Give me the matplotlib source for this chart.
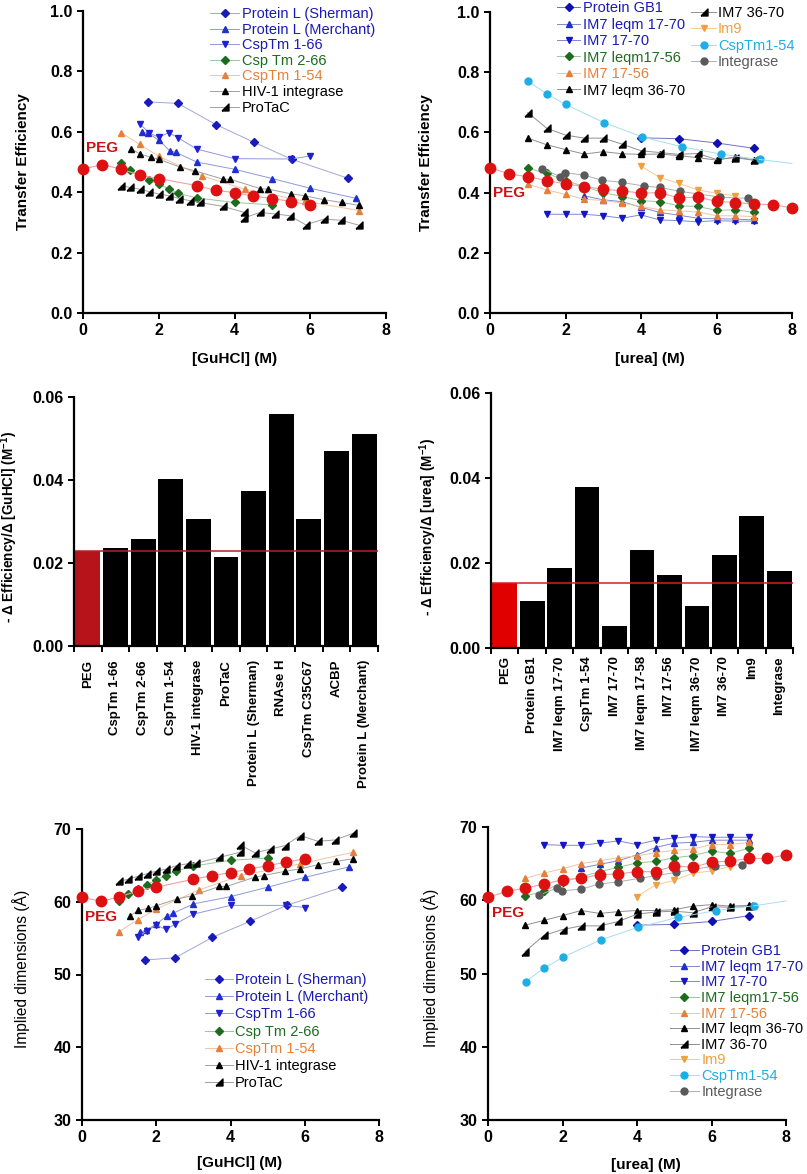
import matplotlib
matplotlib.use("Agg")
import matplotlib.pyplot as plt

plt.rcParams['font.family'] = ['Liberation Sans', 'DejaVu Sans']
plt.rcParams['font.weight'] = 'bold'
plt.rcParams['axes.labelweight'] = 'bold'
plt.rcParams['mathtext.default'] = 'regular'

W, H = 807, 1174

# ---------------- GuHCl series: x, transfer efficiency, implied dimension ----------------
peg_gu_x = [0, 0.5, 1.0, 1.5, 2.0, 3.0, 3.5, 4.0, 4.5, 5.0, 5.5, 6.0]
peg_gu_E = [0.477, 0.491, 0.477, 0.456, 0.445, 0.422, 0.406, 0.399, 0.387, 0.379, 0.369, 0.358]
peg_gu_R = [60.64, 60.05, 60.64, 61.5, 62.0, 63.1, 63.6, 64.0, 64.5, 64.95, 65.45, 65.9]

sherman_x = [1.71, 2.51, 3.51, 4.52, 5.51, 7.0]
sherman_E = [0.699, 0.694, 0.624, 0.565, 0.509, 0.446]
sherman_R = [52.0, 52.3, 55.1, 57.3, 59.5, 62.0]

merchant_x = [1.56, 1.72, 2.0, 2.29, 2.45, 3.0, 4.0, 5.0, 6.0, 7.2]
merchant_E = [0.598, 0.595, 0.573, 0.537, 0.532, 0.500, 0.476, 0.445, 0.413, 0.380]
merchant_R = [55.8, 56.1, 56.9, 58.1, 58.4, 59.7, 60.7, 62.0, 63.35, 64.8]

csp166_x = [1.51, 1.74, 2.0, 2.26, 2.5, 3.0, 4.0, 5.5, 6.0]
csp166_E = [0.626, 0.597, 0.582, 0.597, 0.581, 0.543, 0.511, 0.510, 0.520]
csp166_R = [55.1, 56.0, 56.8, 56.2, 56.9, 58.3, 59.5, 59.5, 59.2]

csp266_x = [1.0, 1.25, 1.5, 1.75, 2.0, 2.26, 2.52, 3.0, 4.0, 5.0]
csp266_E = [0.496, 0.472, 0.455, 0.439, 0.426, 0.412, 0.396, 0.381, 0.366, 0.358]
csp266_R = [60.1, 61.0, 61.7, 62.3, 63.0, 63.6, 64.2, 64.9, 65.7, 66.0]

csp154_x = [1.0, 1.5, 2.0, 3.14, 4.27, 5.87, 7.3]
csp154_E = [0.597, 0.558, 0.519, 0.454, 0.410, 0.370, 0.339]
csp154_R = [55.9, 57.5, 59.0, 61.6, 63.6, 65.2, 66.8]

hiv_x = [1.28, 1.51, 1.79, 2.0, 2.57, 2.95, 3.7, 3.89, 4.67, 4.89, 5.48, 5.86, 6.36, 6.84, 7.3]
hiv_E = [0.543, 0.526, 0.516, 0.509, 0.483, 0.471, 0.443, 0.443, 0.412, 0.410, 0.395, 0.388,
         0.375, 0.366, 0.356]
hiv_R = [58.0, 58.8, 59.1, 59.45, 60.4, 60.8, 62.1, 62.1, 63.4, 63.6, 64.2, 64.5, 65.1, 65.55, 65.9]

protac_x = [1.0, 1.25, 1.5, 1.74, 2.0, 2.27, 2.54, 2.82, 3.08, 3.7, 4.26, 4.26, 4.67, 5.07, 5.46,
            5.88, 6.36, 6.82, 7.3]
protac_E = [0.421, 0.416, 0.410, 0.402, 0.394, 0.388, 0.379, 0.372, 0.366, 0.353, 0.333, 0.315,
            0.333, 0.328, 0.322, 0.292, 0.311, 0.307, 0.290]
protac_R = [62.8, 63.1, 63.5, 63.85, 64.2, 64.5, 64.95, 65.2, 65.3, 66.1, 66.8, 67.8, 66.7, 67.25,
            67.7, 69.1, 68.3, 68.5, 69.4]

# ---------------- urea series ----------------
peg_ur_x = [0, 0.5, 1, 1.5, 2, 2.5, 3, 3.5, 4, 4.5, 5, 5.5, 6, 6.5, 7, 7.5, 8]
peg_ur_E = [0.483, 0.462, 0.453, 0.440, 0.429, 0.420, 0.411, 0.406, 0.398, 0.400, 0.382, 0.385,
            0.371, 0.367, 0.362, 0.360, 0.349]
peg_ur_R = [60.4, 61.2, 61.65, 62.2, 62.8, 63.0, 63.5, 63.6, 63.9, 63.9, 64.7, 64.5, 65.2, 65.35,
            65.7, 65.7, 66.2]

gb1_x = [4, 5, 6, 7]
gb1_E = [0.582, 0.579, 0.565, 0.547]
gb1_R = [56.6, 56.7, 57.1, 57.9]

lq1770_x = [2.5, 3, 3.5, 4, 4.5, 5, 5.5, 6, 6.5, 7]
lq1770_E = [0.389, 0.376, 0.370, 0.351, 0.334, 0.325, 0.315, 0.313, 0.312, 0.309]
lq1770_R = [64.4, 64.9, 65.4, 66.2, 67.2, 67.8, 67.9, 68.2, 68.2, 68.2]

im1770_x = [1.5, 2, 2.5, 3, 3.5, 4, 4.5, 5, 5.5, 6, 6.5, 7]
im1770_E = [0.328, 0.328, 0.328, 0.323, 0.315, 0.326, 0.309, 0.307, 0.303, 0.307, 0.305, 0.305]
im1770_R = [67.6, 67.5, 67.5, 67.8, 68.1, 67.6, 68.2, 68.5, 68.7, 68.6, 68.6, 68.6]

urea_x = [1, 1.5, 2, 2.5, 3, 3.5, 4, 4.5, 5, 5.5, 6, 6.5, 7]
lq1756_E = [0.481, 0.464, 0.440, 0.420, 0.400, 0.387, 0.373, 0.370, 0.356, 0.354, 0.341, 0.343, 0.334]
lq1756_R = [60.6, 61.2, 62.5, 63.2, 63.9, 64.5, 65.1, 65.3, 65.8, 66.1, 66.7, 66.4, 67.1]
im1756_E = [0.428, 0.409, 0.394, 0.378, 0.374, 0.365, 0.354, 0.343, 0.339, 0.336, 0.323, 0.323, 0.320]
im1756_R = [63.0, 63.7, 64.3, 65.0, 65.4, 65.8, 66.05, 66.5, 66.8, 67.0, 67.6, 67.6, 67.9]
lq3670_E = [0.581, 0.559, 0.543, 0.528, 0.536, 0.529, 0.527, 0.528, 0.523, 0.516, 0.508, 0.519, 0.508]
lq3670_R = [56.6, 57.25, 57.9, 58.6, 58.2, 58.45, 58.6, 58.6, 58.7, 59.2, 59.4, 59.2, 59.3]
im3670_E = [0.666, 0.614, 0.591, 0.581, 0.581, 0.561, 0.539, 0.533, 0.527, 0.530, 0.510, 0.516, 0.507]
im3670_R = [53.0, 55.2, 56.0, 56.5, 56.5, 57.1, 58.1, 58.4, 58.5, 58.3, 59.1, 59.05, 59.15]

im9_x = [4, 4.5, 5, 5.5, 6, 6.5]
im9_E = [0.488, 0.450, 0.431, 0.409, 0.398, 0.389]
im9_R = [60.5, 62.1, 62.7, 63.7, 64.0, 64.6]

cspu_x = [1.01, 1.5, 2.0, 3.03, 4.03, 5.09, 6.12, 7.14]
cspu_E = [0.770, 0.728, 0.693, 0.632, 0.585, 0.552, 0.528, 0.510]
cspu_R = [48.9, 50.7, 52.2, 54.6, 56.3, 57.65, 58.6, 59.25]
cspu_fit_x = [7.14, 8.0]
cspu_fit_E = [0.510, 0.497]
cspu_fit_R = [59.25, 59.9]

integ_x = [1.38, 1.86, 1.99, 2.49, 2.97, 3.49, 4.07, 4.51, 5.04, 6.1, 6.83]
integ_E = [0.480, 0.453, 0.466, 0.458, 0.441, 0.434, 0.422, 0.417, 0.404, 0.385, 0.381]
integ_R = [60.7, 61.7, 61.3, 61.5, 62.2, 62.5, 63.0, 63.35, 63.8, 64.7, 64.85]

# ---------------- slopes (bar charts) ----------------
gu_names = ["PEG", "CspTm 1-66", "CspTm 2-66", "CspTm 1-54", "HIV-1 integrase", "ProTaC",
            "Protein L (Sherman)", "RNAse H", "CspTm C35C67", "ACBP", "Protein L (Merchant)"]
gu_slopes = [0.0228, 0.0235, 0.0257, 0.0402, 0.0306, 0.0214, 0.0374, 0.0558, 0.0306, 0.0470, 0.0512]
ur_names = ["PEG", "Protein GB1", "IM7 leqm 17-70", "CspTm 1-54", "IM7 17-70", "IM7 leqm 17-58",
            "IM7 17-56", "IM7 leqm 36-70", "IM7 36-70", "Im9", "Integrase"]
ur_slopes = [0.0153, 0.0110, 0.0189, 0.0379, 0.0051, 0.0230, 0.0171, 0.0100, 0.0220, 0.0310, 0.0181]

RT = [(-1, -1), (1, -1), (1, 1), (-1, -1)]   # right-angle triangle marker
BLUE = '#1a1ab8'
GREEN = '#1e6b1e'
ORANGE = '#e5803a'
LORANGE = '#f0a040'
CYAN = '#1eaee6'
GREY = '#5a5a5a'
RED = '#dd1111'

fig = plt.figure(figsize=(W / 100, H / 100), dpi=100)


def add_ax(l, t, r, b):
    return fig.add_axes([l / W, 1 - b / H, (r - l) / W, (b - t) / H])


def style(ax):
    for s in ['top', 'right']:
        ax.spines[s].set_visible(False)
    for s in ['left', 'bottom']:
        ax.spines[s].set_linewidth(1.6)
    ax.tick_params(width=1.4, length=4, labelsize=11.5, direction='out')


def series(ax, x, y, mk, mcol, lcol, ms, label=None):
    return ax.plot(x, y, marker=mk, color=lcol, mfc=mcol, mec=mcol, ms=ms, lw=0.7,
                   label=label, clip_on=False)[0]


def peg(ax, x, y):
    ax.plot(x, y, marker='o', color='#f0a0a0', mfc=RED, mec=RED, ms=7.5, lw=0.8,
            clip_on=False, zorder=5)


def gu_panel(ax, ykey):
    data = [
        (sherman_x, sherman_E, sherman_R, 'D', BLUE, '#a0a8d8', 3.6, "Protein L (Sherman)", BLUE),
        (merchant_x, merchant_E, merchant_R, '^', '#2030d0', '#9098d8', 4.5, "Protein L (Merchant)", BLUE),
        (csp166_x, csp166_E, csp166_R, 'v', '#2020d0', '#9098d8', 4.5, "CspTm 1-66", BLUE),
        (csp266_x, csp266_E, csp266_R, 'D', GREEN, '#98c898', 3.6, "Csp Tm 2-66", GREEN),
        (csp154_x, csp154_E, csp154_R, '^', ORANGE, '#f2c4a4', 4.5, "CspTm 1-54", ORANGE),
        (hiv_x, hiv_E, hiv_R, '^', 'black', '#a0a0a0', 4.5, "HIV-1 integrase", 'black'),
        (protac_x, protac_E, protac_R, RT, 'black', '#a0a0a0', 5, "ProTaC", 'black'),
    ]
    handles, colors = [], []
    for x, e, r, mk, mc, lc, ms, lab, tc in data:
        handles.append(series(ax, x, e if ykey == 'E' else r, mk, mc, lc, ms, lab))
        colors.append(tc)
    peg(ax, peg_gu_x, peg_gu_E if ykey == 'E' else peg_gu_R)
    return handles, colors


def ur_panel(ax, ykey):
    data = [
        (gb1_x, gb1_E, gb1_R, 'D', '#1010b0', '#7070c0', 3.6, "Protein GB1", BLUE),
        (lq1770_x, lq1770_E, lq1770_R, '^', '#2030c8', '#8088d0', 4.5, "IM7 leqm 17-70", BLUE),
        (im1770_x, im1770_E, im1770_R, 'v', '#1515c8', '#8088d0', 4.5, "IM7 17-70", BLUE),
        (urea_x, lq1756_E, lq1756_R, 'D', GREEN, '#98c898', 3.6, "IM7 leqm17-56", GREEN),
        (urea_x, im1756_E, im1756_R, '^', ORANGE, '#f2c4a4', 4.5, "IM7 17-56", ORANGE),
        (urea_x, lq3670_E, lq3670_R, '^', 'black', '#909090', 4.5, "IM7 leqm 36-70", 'black'),
        (urea_x, im3670_E, im3670_R, RT, 'black', '#909090', 5, "IM7 36-70", 'black'),
        (im9_x, im9_E, im9_R, 'v', LORANGE, '#f5cc90', 4.5, "Im9", LORANGE),
        (cspu_x, cspu_E, cspu_R, 'o', CYAN, '#a8dcf0', 5, "CspTm1-54", CYAN),
        (integ_x, integ_E, integ_R, 'o', GREY, '#b0b0b0', 5, "Integrase", GREY),
    ]
    handles, colors = [], []
    for x, e, r, mk, mc, lc, ms, lab, tc in data:
        handles.append(series(ax, x, e if ykey == 'E' else r, mk, mc, lc, ms, lab))
        colors.append(tc)
    ax.plot(cspu_fit_x, cspu_fit_E if ykey == 'E' else cspu_fit_R, color='#a8dcf0', lw=0.7,
            clip_on=False)
    peg(ax, peg_ur_x, peg_ur_E if ykey == 'E' else peg_ur_R)
    return handles, colors


def legend(ax, handles, colors, x, y, fs, hl, spacing):
    leg = ax.legend(handles=handles, loc='upper left', bbox_to_anchor=(x, y), frameon=False,
                    borderpad=0, borderaxespad=0, handlelength=hl, handletextpad=0.15,
                    labelspacing=spacing, prop={'size': fs, 'weight': 'normal'})
    for t, c in zip(leg.get_texts(), colors):
        t.set_color(c)
    return leg


# ---------------- top left ----------------
ax = add_ax(83, 11, 386, 313)
style(ax)
h, c = gu_panel(ax, 'E')
ax.set_xlim(0, 8)
ax.set_ylim(0, 1.0)
ax.set_xticks([0, 2, 4, 6, 8])
ax.set_yticks([0.0, 0.2, 0.4, 0.6, 0.8, 1.0])
ax.set_xlabel("[GuHCl] (M)", fontsize=11)
ax.set_ylabel("Transfer Efficiency", fontsize=11)
ax.xaxis.set_label_coords(0.5, -0.13)
ax.yaxis.set_label_coords(-0.175, 0.5)
ax.text(0.5, 0.546, "PEG", color='#cc1111', fontsize=11, ha='center', va='center')
legend(ax, h, c, 0.42, 1.013, 10.5, 2.0, 0.11)

# ---------------- top right ----------------
ax = add_ax(490, 12, 792, 313)
style(ax)
h, c = ur_panel(ax, 'E')
ax.set_xlim(0, 8)
ax.set_ylim(0, 1.0)
ax.set_xticks([0, 2, 4, 6, 8])
ax.set_yticks([0.0, 0.2, 0.4, 0.6, 0.8, 1.0])
ax.set_xlabel("[urea] (M)", fontsize=11)
ax.set_ylabel("Transfer Efficiency", fontsize=11)
ax.xaxis.set_label_coords(0.53, -0.13)
ax.yaxis.set_label_coords(-0.189, 0.5)
ax.text(0.5, 0.40, "PEG", color='#cc1111', fontsize=11, ha='center', va='center')
leg1 = legend(ax, h[:6], c[:6], 0.222, 1.036, 10.5, 1.6, 0.17)
ax.add_artist(leg1)
legend(ax, h[6:], c[6:], 0.666, 1.02, 10.5, 1.7, 0.17)


# ---------------- bar charts ----------------
def bar_panel(ax, names, vals, pegcol, linecol, ylab, ycx, ycy, pad):
    style(ax)
    pos = list(range(len(names)))
    cols = [pegcol] + ['black'] * (len(names) - 1)
    ax.bar(pos, vals, width=0.9, color=cols)
    ax.axhline(vals[0], color=linecol, lw=1.1)
    ax.set_xlim(-0.5, len(names) - 0.5)
    ax.set_ylim(0, 0.06)
    ax.set_yticks([0.0, 0.02, 0.04, 0.06])
    ax.set_yticklabels(["0.00", "0.02", "0.04", "0.06"])
    ax.set_xticks(pos)
    ax.set_xticklabels(names, rotation=90, fontsize=9.5)
    ax.set_xticks([p - 0.5 for p in pos] + [len(names) - 0.5], minor=True)
    ax.tick_params(axis='x', which='major', length=0, pad=pad)
    ax.tick_params(axis='x', which='minor', length=4, width=1.4)
    ax.set_ylabel(ylab, fontsize=9.8)
    ax.yaxis.set_label_coords(ycx, ycy)


ax = add_ax(74, 397, 378, 646)
bar_panel(ax, gu_names, gu_slopes, '#b5141a', '#b22222',
          "- \u0394 Efficiency/\u0394 [GuHCl] (M$^{-1}$)", -0.178, 0.48, 10)
ax = add_ax(491, 393, 793, 648)
bar_panel(ax, ur_names, ur_slopes, '#e00000', '#d42020',
          "- \u0394 Efficiency/\u0394 [urea] (M$^{-1}$)", -0.172, 0.475, 6)

# ---------------- bottom left ----------------
ax = add_ax(82, 829, 379, 1120)
style(ax)
h, c = gu_panel(ax, 'R')
ax.set_xlim(0, 8)
ax.set_ylim(30, 70)
ax.set_xticks([0, 2, 4, 6, 8])
ax.set_yticks([30, 40, 50, 60, 70])
ax.set_xlabel("[GuHCl] (M)", fontsize=11)
ax.set_ylabel("Implied dimensions (\u00c5)", fontsize=11.2, fontweight='normal')
ax.xaxis.set_label_coords(0.53, -0.124)
ax.yaxis.set_label_coords(-0.175, 0.52)
ax.text(0.51, 57.9, "PEG", color='#cc1111', fontsize=11, ha='center', va='center')
legend(ax, h, c, 0.414, 0.505, 10.5, 1.9, 0.22)

# ---------------- bottom right ----------------
ax = add_ax(488, 827, 786, 1120)
style(ax)
h, c = ur_panel(ax, 'R')
ax.set_xlim(0, 8)
ax.set_ylim(30, 70)
ax.set_xticks([0, 2, 4, 6, 8])
ax.set_yticks([30, 40, 50, 60, 70])
ax.set_xlabel("[urea] (M)", fontsize=11)
ax.set_ylabel("Implied dimensions (\u00c5)", fontsize=11.2, fontweight='normal')
ax.xaxis.set_label_coords(0.53, -0.13)
ax.yaxis.set_label_coords(-0.164, 0.52)
ax.text(0.54, 58.26, "PEG", color='#cc1111', fontsize=11, ha='center', va='center')
legend(ax, h, c, 0.61, 0.60, 10.5, 2.0, 0.11)

fig.savefig("out.png", dpi=100)
